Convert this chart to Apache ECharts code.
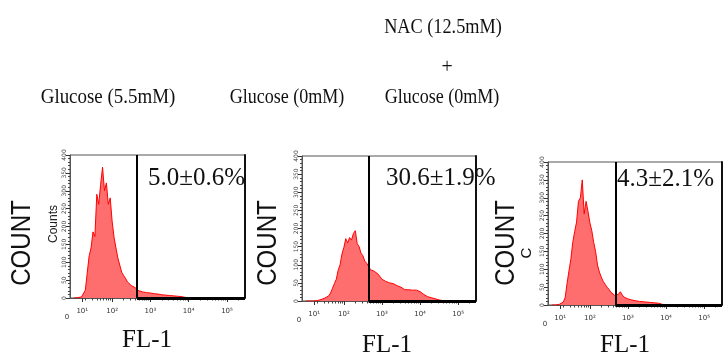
<!DOCTYPE html>
<html>
<head>
<meta charset="utf-8">
<script src="https://cdn.jsdelivr.net/npm/echarts@6/dist/echarts.min.js"></script>
<style>
html,body{margin:0;padding:0;background:#fff;}
#chart{width:728px;height:356px;}
</style>
</head>
<body>
<div id="chart"></div>
<script>
// FL-1 channel positions (log10 of fluorescence) for the histogram bins
var fl1Log = [1.00,1.05,1.10,1.15,1.20,1.25,1.30,1.35,1.40,1.45,1.50,1.55,1.60,1.65,1.70,1.75,1.80,1.85,1.90,1.95,
  2.00,2.05,2.10,2.15,2.20,2.25,2.30,2.35,2.40,2.45,2.50,2.55,2.60,2.65,2.70,2.75,2.80,2.85,2.90,2.95,
  3.00,3.05,3.10,3.15,3.20,3.25,3.30,3.35,3.40,3.45,3.50,3.55,3.60,3.65,3.70,3.75,3.80,3.85,3.90,3.95,
  4.00,4.05,4.10,4.15,4.20,4.25,4.30,4.35,4.40,4.45,4.50,4.55,4.60];

// Counts: Glucose (5.5mM)
var countsGlc55 = [0,0,1,2,3,5,22,70,118,140,185,172,290,262,318,366,300,322,262,280,
  215,170,140,112,92,72,63,55,45,40,35,31,29,27,20,18,17,16,15,14,
  14,13,12,12,11,10,9,9,8,7,7,6,6,5,5,4,4,3,2,2,
  1,1,0,0,0,0,0,0,0,0,0,0,0];
// Counts: Glucose (0mM)
var countsGlc0 = [0,0,0,0,0,0,1,2,4,6,8,10,14,22,35,48,60,85,100,130,
  148,172,160,175,168,186,194,158,150,132,125,110,104,96,86,90,82,84,74,70,
  60,56,54,55,50,52,48,46,42,40,38,34,31,30,31,29,30,28,30,27,
  26,22,18,15,12,10,9,8,6,4,3,2,1];
// Counts: NAC (12.5mM) + Glucose (0mM)
var countsNac = [0,0,0,1,2,4,8,20,60,95,128,175,205,232,290,300,350,255,290,262,
  230,208,175,150,112,92,78,66,58,50,44,36,31,27,24,30,37,28,22,19,
  17,15,14,13,12,11,10,10,9,8,8,7,7,6,6,5,5,4,2,1,
  0,0,0,0,0,0,0,0,0,0,0,0,0];

var panelTitles = [["Glucose (5.5mM)"], ["Glucose (0mM)"], ["NAC (12.5mM)", "+", "Glucose (0mM)"]];
var percentLabels = ["5.0\u00b10.6%", "30.6\u00b11.9%", "4.3\u00b12.1%"];
var gateLog = [2.65, 2.65, 2.67];

var xTickValues = [0.9, 1.22, 2, 3, 4, 5];
var xTickLabels = ["0", "10\u00b9", "10\u00b2", "10\u00b3", "10\u2074", "10\u2075"];
var yMin = 0, yMax = 400, yInterval = 50;
var xMin = 0.9, xMax = 5.47;

var allCounts = [countsGlc55, countsGlc0, countsNac];

// layout
var grids = [
  {left: 70, top: 155, width: 175, height: 143},
  {left: 302, top: 156, width: 174, height: 145},
  {left: 548, top: 162, width: 174, height: 143}
];

var minorX = [];
[1, 2, 3, 4, 5].forEach(function (d) {
  for (var k = 2; k <= 9; k++) {
    var v = d + Math.log10(k);
    if (v > 1.3 && v < xMax) minorX.push(+v.toFixed(4));
  }
});

var option = {
  animation: false,
  backgroundColor: '#fff',
  grid: grids.map(function (g) {
    return {left: g.left, top: g.top, width: g.width, height: g.height, show: true,
      borderColor: '#555', borderWidth: 1, backgroundColor: 'transparent', containLabel: false};
  }),
  xAxis: [],
  yAxis: [],
  series: [],
  graphic: []
};

for (var p = 0; p < 3; p++) {
  option.xAxis.push({
    type: 'value', gridIndex: p, min: xMin, max: xMax,
    axisLine: {show: true, lineStyle: {color: '#555', width: 1}},
    axisTick: {show: true, customValues: xTickValues.slice(1), length: 4, inside: false,
      lineStyle: {color: '#333', width: 1}},
    axisLabel: {show: true, customValues: xTickValues, margin: 10, fontSize: 7,
      fontFamily: 'DejaVu Sans', color: '#333',
      formatter: function (v) {
        for (var i = 0; i < xTickValues.length; i++) {
          if (Math.abs(v - xTickValues[i]) < 1e-6) {
            return i === 0 ? '{z|0}' : xTickLabels[i];
          }
        }
        return '';
      },
      rich: {z: {fontSize: 7, fontFamily: 'DejaVu Sans', color: '#333', padding: [6, 6, 0, 0]}}
    },
    splitLine: {show: false}
  });
  option.xAxis.push({
    type: 'value', gridIndex: p, min: xMin, max: xMax, position: 'bottom',
    axisLine: {show: false},
    axisTick: {show: true, customValues: minorX, length: 2.5, lineStyle: {color: '#444', width: 1}},
    axisLabel: {show: false},
    splitLine: {show: false}
  });
  option.yAxis.push({
    type: 'value', gridIndex: p, min: yMin, max: yMax, interval: yInterval,
    axisLine: {show: true, lineStyle: {color: '#555', width: 1}},
    axisTick: {show: true, length: 4, lineStyle: {color: '#333'}},
    minorTick: {show: true, splitNumber: 5, length: 2, lineStyle: {color: '#444'}},
    axisLabel: {show: true, rotate: 90, fontSize: 6, margin: 3, color: '#444', fontFamily: 'DejaVu Sans'},
    splitLine: {show: false}
  });
  option.yAxis.push({
    type: 'value', gridIndex: p, min: yMin, max: yMax, position: 'right',
    axisLine: {show: true, lineStyle: {color: '#111', width: 2}},
    axisTick: {show: false}, axisLabel: {show: false}, splitLine: {show: false}
  });
  option.series.push({
    type: 'line', xAxisIndex: 2 * p, yAxisIndex: 2 * p,
    data: fl1Log.map(function (x, i) { return [x, allCounts[p][i]]; }),
    symbol: 'none', smooth: false,
    lineStyle: {color: '#ff0000', width: 1},
    areaStyle: {color: '#ff6e6e', opacity: 1},
    markLine: {
      silent: true, symbol: ['none', 'none'], label: {show: false},
      data: [
        [{coord: [gateLog[p], yMax]}, {coord: [gateLog[p], yMin]}],
        [{coord: [gateLog[p], yMin], lineStyle: {width: 3}}, {coord: [xMax, yMin]}]
      ],
      lineStyle: {color: '#000', width: 2, type: 'solid'}
    }
  });
}

function txt(x, y, text, font, opts) {
  opts = opts || {};
  return {
    type: 'text', x: x, y: y, rotation: opts.rotation || 0,
    scaleX: opts.scaleX || 1, scaleY: 1, z: 10,
    style: {text: text, x: 0, y: 0, font: font, fill: opts.fill || '#111',
      textAlign: opts.align || 'center', textVerticalAlign: 'middle',
      align: opts.align || 'center', verticalAlign: 'middle'}
  };
}

var serifTitle = '22px "Liberation Serif", "Times New Roman", serif';
var serifBig = '25px "Liberation Serif", "Times New Roman", serif';
var sansCount = '28px "Liberation Sans", Arial, sans-serif';

// panel titles
option.graphic.push(txt(108, 97, panelTitles[0][0], serifTitle, {scaleX: 0.86}));
option.graphic.push(txt(287, 97, panelTitles[1][0], serifTitle, {scaleX: 0.82}));
option.graphic.push(txt(443, 27, panelTitles[2][0], serifTitle, {scaleX: 0.83}));
option.graphic.push(txt(447, 67, panelTitles[2][1], serifTitle, {scaleX: 0.9}));
option.graphic.push(txt(442, 97, panelTitles[2][2], serifTitle, {scaleX: 0.82}));

// percentages
option.graphic.push(txt(148, 178, percentLabels[0], serifBig, {align: 'left'}));
option.graphic.push(txt(386, 178, percentLabels[1], serifBig, {align: 'left'}));
option.graphic.push(txt(617, 179, percentLabels[2], serifBig, {align: 'left'}));

// COUNT labels
option.graphic.push(txt(22, 243, 'COUNT', sansCount, {rotation: Math.PI / 2, scaleX: 0.86}));
option.graphic.push(txt(268, 243, 'COUNT', sansCount, {rotation: Math.PI / 2, scaleX: 0.86}));
option.graphic.push(txt(506, 243, 'COUNT', sansCount, {rotation: Math.PI / 2, scaleX: 0.86}));

// remnants of the original axis captions visible in the source image
option.graphic.push(txt(54, 224, 'Counts', '12px "Liberation Sans", Arial, sans-serif',
  {rotation: Math.PI / 2, fill: '#222'}));
option.graphic.push(txt(527, 253, 'C', '15px "Liberation Sans", Arial, sans-serif',
  {rotation: Math.PI / 2, fill: '#111'}));

// FL-1 labels
option.graphic.push(txt(147, 340, 'FL-1', serifBig));
option.graphic.push(txt(387, 345, 'FL-1', serifBig));
option.graphic.push(txt(625, 345, 'FL-1', serifBig));

var chart = echarts.init(document.getElementById('chart'), null, {renderer: 'canvas'});
chart.setOption(option);
</script>
</body>
</html>
